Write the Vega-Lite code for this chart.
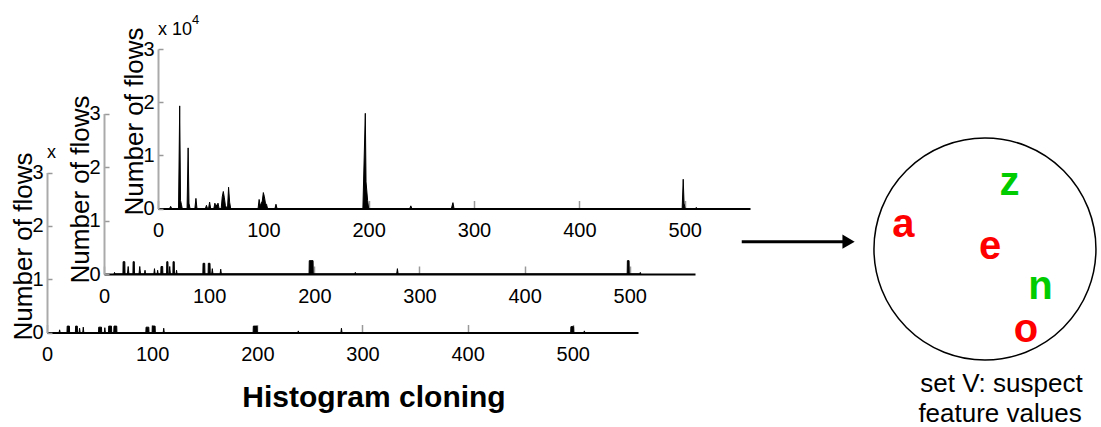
{
  "$schema": "https://vega.github.io/schema/vega-lite/v6.json",
  "width": 1101,
  "height": 427,
  "padding": 0,
  "autosize": {"type": "none"},
  "background": "white",
  "config": {"view": {"stroke": null}, "axis": {"grid": false}, "font": "Liberation Sans"},
  "datasets": {
    "h": [
      {"p":1,"v":11,"n":0},{"p":1,"v":12,"n":0.04},{"p":1,"v":13,"n":0},
      {"p":1,"v":19.5,"n":0},{"p":1,"v":20.6,"n":1.93},{"p":1,"v":21.4,"n":0.15},{"p":1,"v":22.2,"n":0.08},{"p":1,"v":23,"n":0},
      {"p":1,"v":27.6,"n":0},{"p":1,"v":28.6,"n":1.14},{"p":1,"v":29.4,"n":0.1},{"p":1,"v":30.4,"n":0},
      {"p":1,"v":35,"n":0},{"p":1,"v":36,"n":0.19},{"p":1,"v":37,"n":0},
      {"p":1,"v":45,"n":0},{"p":1,"v":46,"n":0.06},{"p":1,"v":47,"n":0},
      {"p":1,"v":48,"n":0},{"p":1,"v":49,"n":0.12},{"p":1,"v":50,"n":0},
      {"p":1,"v":53,"n":0},{"p":1,"v":54,"n":0.1},{"p":1,"v":55,"n":0.04},{"p":1,"v":57,"n":0.1},{"p":1,"v":58,"n":0},
      {"p":1,"v":60,"n":0},{"p":1,"v":61,"n":0.22},{"p":1,"v":62,"n":0.32},{"p":1,"v":63,"n":0.2},{"p":1,"v":64,"n":0.05},{"p":1,"v":66,"n":0},{"p":1,"v":67,"n":0.4},{"p":1,"v":68,"n":0.12},{"p":1,"v":69,"n":0},
      {"p":1,"v":95,"n":0},{"p":1,"v":96,"n":0.17},{"p":1,"v":97,"n":0.05},{"p":1,"v":99,"n":0.14},{"p":1,"v":100,"n":0.3},{"p":1,"v":101,"n":0.22},{"p":1,"v":102,"n":0.1},{"p":1,"v":103,"n":0.08},{"p":1,"v":104,"n":0},
      {"p":1,"v":111,"n":0},{"p":1,"v":112,"n":0.08},{"p":1,"v":113,"n":0},
      {"p":1,"v":194.5,"n":0},{"p":1,"v":196.8,"n":1.79},{"p":1,"v":197.5,"n":0.5},{"p":1,"v":199,"n":0.15},{"p":1,"v":200,"n":0},
      {"p":1,"v":239,"n":0},{"p":1,"v":240,"n":0.05},{"p":1,"v":241,"n":0},
      {"p":1,"v":278.5,"n":0},{"p":1,"v":280,"n":0.11},{"p":1,"v":281,"n":0},
      {"p":1,"v":497.6,"n":0},{"p":1,"v":498.6,"n":0.55},{"p":1,"v":499.4,"n":0.1},{"p":1,"v":500.4,"n":0},
      {"p":1,"v":510,"n":0},{"p":1,"v":511,"n":0.02},{"p":1,"v":512,"n":0},

      {"p":2,"v":9.5,"n":0},{"p":2,"v":10,"n":0.03},{"p":2,"v":10.5,"n":0},
      {"p":2,"v":18,"n":0},{"p":2,"v":18.2,"n":0.23},{"p":2,"v":19.8,"n":0.23},{"p":2,"v":20,"n":0},
      {"p":2,"v":22.3,"n":0},{"p":2,"v":23,"n":0.14},{"p":2,"v":23.7,"n":0},
      {"p":2,"v":27.5,"n":0},{"p":2,"v":27.7,"n":0.23},{"p":2,"v":28.8,"n":0.23},{"p":2,"v":29,"n":0},
      {"p":2,"v":33.3,"n":0},{"p":2,"v":34,"n":0.14},{"p":2,"v":34.7,"n":0},
      {"p":2,"v":38.5,"n":0},{"p":2,"v":39,"n":0.07},{"p":2,"v":39.5,"n":0},
      {"p":2,"v":47.4,"n":0},{"p":2,"v":48,"n":0.1},{"p":2,"v":48.6,"n":0},
      {"p":2,"v":50.5,"n":0},{"p":2,"v":51,"n":0.07},{"p":2,"v":51.5,"n":0},
      {"p":2,"v":54,"n":0},{"p":2,"v":54.2,"n":0.14},{"p":2,"v":55.8,"n":0.14},{"p":2,"v":56,"n":0},
      {"p":2,"v":59.5,"n":0},{"p":2,"v":59.7,"n":0.23},{"p":2,"v":60.8,"n":0.23},{"p":2,"v":61,"n":0},
      {"p":2,"v":61.9,"n":0},{"p":2,"v":62.5,"n":0.14},{"p":2,"v":63.1,"n":0},
      {"p":2,"v":65.5,"n":0},{"p":2,"v":65.7,"n":0.23},{"p":2,"v":66.8,"n":0.23},{"p":2,"v":67,"n":0},
      {"p":2,"v":68.5,"n":0},{"p":2,"v":69,"n":0.07},{"p":2,"v":69.5,"n":0},
      {"p":2,"v":94,"n":0},{"p":2,"v":94.2,"n":0.2},{"p":2,"v":95.8,"n":0.2},{"p":2,"v":96,"n":0},
      {"p":2,"v":99,"n":0},{"p":2,"v":99.2,"n":0.2},{"p":2,"v":100.8,"n":0.2},{"p":2,"v":101,"n":0},
      {"p":2,"v":102.4,"n":0},{"p":2,"v":103,"n":0.1},{"p":2,"v":103.6,"n":0},
      {"p":2,"v":110.4,"n":0},{"p":2,"v":111,"n":0.09},{"p":2,"v":111.6,"n":0},
      {"p":2,"v":195,"n":0},{"p":2,"v":195.2,"n":0.25},{"p":2,"v":198.8,"n":0.25},{"p":2,"v":199,"n":0},
      {"p":2,"v":238.5,"n":0},{"p":2,"v":239,"n":0.03},{"p":2,"v":239.5,"n":0},
      {"p":2,"v":278.3,"n":0},{"p":2,"v":279,"n":0.1},{"p":2,"v":279.7,"n":0},
      {"p":2,"v":497.5,"n":0},{"p":2,"v":497.7,"n":0.25},{"p":2,"v":499.3,"n":0.25},{"p":2,"v":499.5,"n":0},
      {"p":2,"v":509.5,"n":0},{"p":2,"v":510,"n":0.03},{"p":2,"v":510.5,"n":0},

      {"p":3,"v":11.5,"n":0},{"p":3,"v":12,"n":0.05},{"p":3,"v":12.5,"n":0},
      {"p":3,"v":19,"n":0},{"p":3,"v":19.2,"n":0.12},{"p":3,"v":21.3,"n":0.12},{"p":3,"v":21.5,"n":0},
      {"p":3,"v":27,"n":0},{"p":3,"v":27.2,"n":0.12},{"p":3,"v":28.8,"n":0.12},{"p":3,"v":29,"n":0},
      {"p":3,"v":30.5,"n":0},{"p":3,"v":31,"n":0.08},{"p":3,"v":31.5,"n":0},
      {"p":3,"v":34,"n":0},{"p":3,"v":34.5,"n":0.1},{"p":3,"v":35,"n":0},
      {"p":3,"v":49,"n":0},{"p":3,"v":49.2,"n":0.1},{"p":3,"v":51.8,"n":0.1},{"p":3,"v":52,"n":0},
      {"p":3,"v":54.5,"n":0},{"p":3,"v":55,"n":0.09},{"p":3,"v":55.5,"n":0},
      {"p":3,"v":58.5,"n":0},{"p":3,"v":58.7,"n":0.12},{"p":3,"v":61.3,"n":0.12},{"p":3,"v":61.5,"n":0},
      {"p":3,"v":63.5,"n":0},{"p":3,"v":63.7,"n":0.12},{"p":3,"v":66.3,"n":0.12},{"p":3,"v":66.5,"n":0},
      {"p":3,"v":94,"n":0},{"p":3,"v":94.2,"n":0.1},{"p":3,"v":96.8,"n":0.1},{"p":3,"v":97,"n":0},
      {"p":3,"v":100,"n":0},{"p":3,"v":100.2,"n":0.12},{"p":3,"v":102.8,"n":0.12},{"p":3,"v":103,"n":0},
      {"p":3,"v":110.5,"n":0},{"p":3,"v":111,"n":0.08},{"p":3,"v":111.5,"n":0},
      {"p":3,"v":196,"n":0},{"p":3,"v":196.2,"n":0.12},{"p":3,"v":199.8,"n":0.12},{"p":3,"v":200,"n":0},
      {"p":3,"v":238.5,"n":0},{"p":3,"v":239,"n":0.03},{"p":3,"v":239.5,"n":0},
      {"p":3,"v":279.5,"n":0},{"p":3,"v":280,"n":0.08},{"p":3,"v":280.5,"n":0},
      {"p":3,"v":498,"n":0},{"p":3,"v":498.2,"n":0.11},{"p":3,"v":500.8,"n":0.11},{"p":3,"v":501,"n":0},
      {"p":3,"v":510.5,"n":0},{"p":3,"v":511,"n":0.03},{"p":3,"v":511.5,"n":0}
    ],
    "letters": [
      {"letter":"z","group":"2","fx":0.9169,"fy":0.4297},
      {"letter":"a","group":"1","fx":0.8206,"fy":0.5269},
      {"letter":"e","group":"1","fx":0.8992,"fy":0.5796},
      {"letter":"n","group":"2","fx":0.9451,"fy":0.6733},
      {"letter":"o","group":"1","fx":0.9319,"fy":0.7717}
    ]
  },
  "layer": [
    {
      "data": {"name": "h"},
      "transform": [{"filter": "datum.p == 3"}],
      "mark": {"type": "area", "color": "black", "stroke": "black", "strokeWidth": 1, "interpolate": "linear"},
      "encoding": {
        "x": {"field": "v", "type": "quantitative",
          "scale": {"domain": [0, 562], "range": [47, 638], "nice": false, "zero": false},
          "axis": {"orient": "bottom", "offset": -94.5, "values": [0,100,200,300,400,500], "format": "d", "title": null,
            "domainColor": "#000", "domainWidth": 2, "tickColor": "#999", "tickWidth": 1.5, "tickSize": -8,
            "labelFont": "Liberation Sans", "labelFontSize": 20, "labelColor": "#000",
            "labelPadding": 20, "labelFlush": false, "labelOverlap": false}},
        "y": {"field": "n", "type": "quantitative",
          "scale": {"domain": [0, 3], "range": [332.5, 172.5], "nice": false},
          "axis": {"orient": "left", "offset": -47, "values": [0,1,2,3], "format": "d",
            "domainColor": "#aaa", "domainWidth": 2, "tickColor": "#999", "tickWidth": 1.5, "tickSize": -5,
            "labelFont": "Liberation Sans", "labelFontSize": 20, "labelColor": "#000",
            "labelPadding": 9, "labelOverlap": false,
            "title": "Number of flows", "titleFont": "Liberation Sans", "titleFontSize": 26, "titleFontWeight": "normal",
            "titleColor": "#000", "titleAngle": -90, "titleAlign": "center", "titleBaseline": "alphabetic",
            "titleX": -16, "titleY": 246}}
      }
    },
    {
      "data": {"name": "h"},
      "transform": [{"filter": "datum.p == 2"}],
      "mark": {"type": "area", "color": "black", "stroke": "black", "strokeWidth": 1, "interpolate": "linear"},
      "encoding": {
        "x": {"field": "v", "type": "quantitative",
          "scale": {"domain": [0, 562], "range": [104, 695], "nice": false, "zero": false},
          "axis": {"orient": "bottom", "offset": -153, "values": [0,100,200,300,400,500], "format": "d", "title": null,
            "domainColor": "#000", "domainWidth": 2, "tickColor": "#999", "tickWidth": 1.5, "tickSize": -8,
            "labelFont": "Liberation Sans", "labelFontSize": 20, "labelColor": "#000",
            "labelPadding": 20, "labelFlush": false, "labelOverlap": false}},
        "y": {"field": "n", "type": "quantitative",
          "scale": {"domain": [0, 3], "range": [274, 113.5], "nice": false},
          "axis": {"orient": "left", "offset": -104, "values": [0,1,2,3], "format": "d",
            "domainColor": "#aaa", "domainWidth": 2, "tickColor": "#999", "tickWidth": 1.5, "tickSize": -5,
            "labelFont": "Liberation Sans", "labelFontSize": 20, "labelColor": "#000",
            "labelPadding": 9, "labelOverlap": false,
            "title": "Number of flows", "titleFont": "Liberation Sans", "titleFontSize": 26, "titleFontWeight": "normal",
            "titleColor": "#000", "titleAngle": -90, "titleAlign": "center", "titleBaseline": "alphabetic",
            "titleX": -16, "titleY": 189}}
      }
    },
    {
      "data": {"name": "h"},
      "transform": [{"filter": "datum.p == 1"}],
      "mark": {"type": "area", "color": "black", "stroke": "black", "strokeWidth": 1, "interpolate": "linear"},
      "encoding": {
        "x": {"field": "v", "type": "quantitative",
          "scale": {"domain": [0, 562], "range": [158, 750], "nice": false, "zero": false},
          "axis": {"orient": "bottom", "offset": -218.5, "values": [0,100,200,300,400,500], "format": "d", "title": null,
            "domainColor": "#000", "domainWidth": 2, "tickColor": "#999", "tickWidth": 1.5, "tickSize": -8,
            "labelFont": "Liberation Sans", "labelFontSize": 20, "labelColor": "#000",
            "labelPadding": 20, "labelFlush": false, "labelOverlap": false}},
        "y": {"field": "n", "type": "quantitative",
          "scale": {"domain": [0, 3], "range": [208.5, 49], "nice": false},
          "axis": {"orient": "left", "offset": -158, "values": [0,1,2,3], "format": "d",
            "domainColor": "#aaa", "domainWidth": 2, "tickColor": "#999", "tickWidth": 1.5, "tickSize": -5,
            "labelFont": "Liberation Sans", "labelFontSize": 20, "labelColor": "#000",
            "labelPadding": 9, "labelOverlap": false,
            "title": "Number of flows", "titleFont": "Liberation Sans", "titleFontSize": 26, "titleFontWeight": "normal",
            "titleColor": "#000", "titleAngle": -90, "titleAlign": "center", "titleBaseline": "alphabetic",
            "titleX": -16, "titleY": 121}}
      }
    },
    {
      "encoding": {
        "x": {"type": "quantitative", "scale": {"domain": [0, 1], "range": [0, 1101], "nice": false, "zero": false}, "axis": null},
        "y": {"type": "quantitative", "scale": {"domain": [0, 1], "range": [0, 427], "nice": false, "zero": false}, "axis": null}
      },
      "layer": [
        {
          "data": {"values": [{}]},
          "mark": {"type": "text", "text": "x 10", "font": "Liberation Sans", "fontSize": 18, "align": "left", "baseline": "alphabetic", "color": "#000"},
          "encoding": {"x": {"datum": 0.1435, "type": "quantitative"}, "y": {"datum": 0.082, "type": "quantitative"}}
        },
        {
          "data": {"values": [{}]},
          "mark": {"type": "text", "text": "4", "font": "Liberation Sans", "fontSize": 13, "align": "left", "baseline": "alphabetic", "color": "#000"},
          "encoding": {"x": {"datum": 0.1744, "type": "quantitative"}, "y": {"datum": 0.0562, "type": "quantitative"}}
        },
        {
          "data": {"values": [{}]},
          "mark": {"type": "text", "text": "x", "font": "Liberation Sans", "fontSize": 18, "align": "left", "baseline": "alphabetic", "color": "#000"},
          "encoding": {"x": {"datum": 0.0427, "type": "quantitative"}, "y": {"datum": 0.37, "type": "quantitative"}}
        },
        {
          "data": {"values": [{}]},
          "mark": {"type": "rule", "color": "black", "strokeWidth": 3},
          "encoding": {"x": {"datum": 0.6737, "type": "quantitative"}, "x2": {"datum": 0.7675}, "y": {"datum": 0.566, "type": "quantitative"}}
        },
        {
          "data": {"values": [{}]},
          "mark": {"type": "point", "shape": "triangle-right", "filled": true, "color": "black", "size": 200, "opacity": 1},
          "encoding": {"x": {"datum": 0.7707, "type": "quantitative"}, "y": {"datum": 0.566, "type": "quantitative"}}
        },
        {
          "data": {"values": [{}]},
          "mark": {"type": "point", "shape": "circle", "filled": false, "stroke": "black", "strokeWidth": 1.5, "size": 49284, "opacity": 1},
          "encoding": {"x": {"datum": 0.8946, "type": "quantitative"}, "y": {"datum": 0.5831, "type": "quantitative"}}
        },
        {
          "data": {"name": "letters"},
          "mark": {"type": "text", "font": "Liberation Sans", "fontWeight": "bold", "fontSize": 40, "align": "center", "baseline": "middle"},
          "encoding": {
            "x": {"field": "fx", "type": "quantitative"},
            "y": {"field": "fy", "type": "quantitative"},
            "text": {"field": "letter"},
            "color": {"field": "group", "type": "nominal", "scale": {"domain": ["1", "2"], "range": ["#ff0000", "#00cc00"]}, "legend": null}
          }
        },
        {
          "data": {"values": [{}]},
          "mark": {"type": "text", "text": "set V: suspect", "font": "Liberation Sans", "fontSize": 26, "align": "center", "baseline": "alphabetic", "color": "#000"},
          "encoding": {"x": {"datum": 0.9096, "type": "quantitative"}, "y": {"datum": 0.9173, "type": "quantitative"}}
        },
        {
          "data": {"values": [{}]},
          "mark": {"type": "text", "text": "feature values", "font": "Liberation Sans", "fontSize": 26, "align": "center", "baseline": "alphabetic", "color": "#000"},
          "encoding": {"x": {"datum": 0.9083, "type": "quantitative"}, "y": {"datum": 0.9876, "type": "quantitative"}}
        },
        {
          "data": {"values": [{}]},
          "mark": {"type": "text", "text": "Histogram cloning", "font": "Liberation Sans", "fontWeight": "bold", "fontSize": 30, "align": "center", "baseline": "alphabetic", "color": "#000"},
          "encoding": {"x": {"datum": 0.3397, "type": "quantitative"}, "y": {"datum": 0.9524, "type": "quantitative"}}
        }
      ]
    }
  ],
  "resolve": {"scale": {"x": "independent", "y": "independent", "color": "independent"}, "axis": {"x": "independent", "y": "independent"}}
}
